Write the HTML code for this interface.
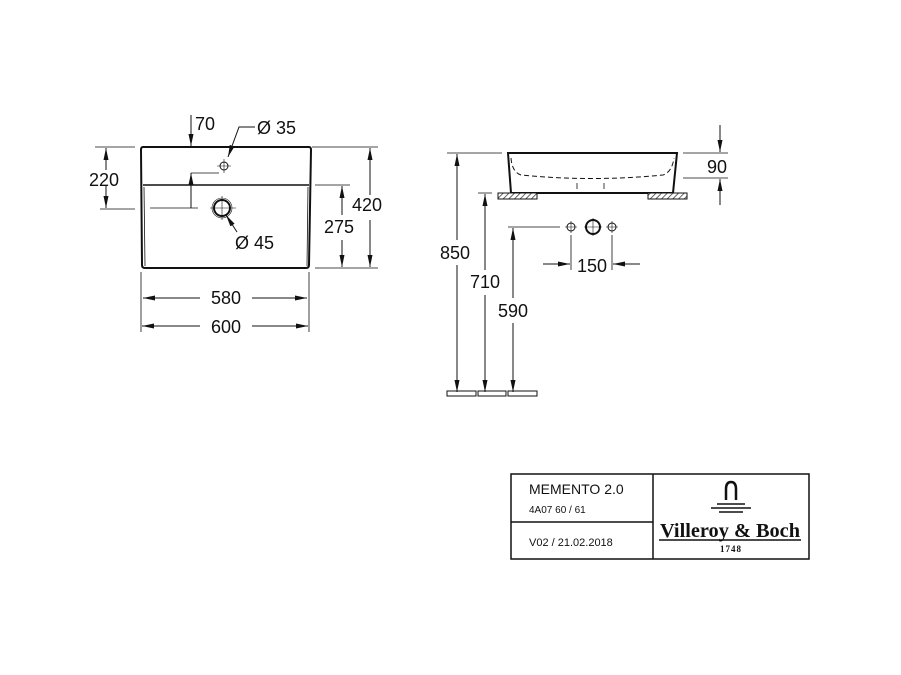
<!DOCTYPE html>
<html><head><style>body{margin:0;background:#fff}svg{display:block}text{font-family:"Liberation Sans",sans-serif;fill:#111}</style></head><body>
<svg width="901" height="675" viewBox="0 0 901 675" xmlns="http://www.w3.org/2000/svg">
<defs><marker id="a" markerWidth="12" markerHeight="6" refX="12" refY="3" orient="auto" markerUnits="userSpaceOnUse"><path d="M0,0.5 L12,3 L0,5.5z" fill="#111"/></marker>
<pattern id="h" width="4" height="4" patternUnits="userSpaceOnUse" patternTransform="rotate(45)"><rect width="4" height="4" fill="#fff"/><line x1="0" y1="0" x2="0" y2="4" stroke="#333" stroke-width="1.5"/></pattern></defs>
<g stroke="#111" fill="none" stroke-width="1">
<path d="M143,147 L309,147 Q311,147 311,150 L309,265 Q309,268 306,268 L145,268 Q142,268 142,265 L141,150 Q141,147 143,147z" stroke-width="2"/>
<path d="M143,185 L309,185" stroke-width="1.5"/>
<path d="M144,187 L145,266 M308,187 L307,266" stroke-width="0.8"/>
<circle cx="224" cy="166" r="4"/><path d="M217,166h14M224,159v14" stroke-width="0.6"/>
<circle cx="222" cy="208" r="8" stroke-width="2"/><circle cx="222" cy="208" r="10" stroke-width="0.6"/><path d="M210,208h26M222,196v24" stroke-width="0.6"/>
<path d="M150,208h48" stroke-width="0.8"/>
<path d="M95,147h40M100,209h35M315,185h35M312,147h66M315,268h63" stroke-width="0.8"/>
<path d="M106,170 V148" marker-end="url(#a)"/><path d="M106,186 V208" marker-end="url(#a)"/>
<path d="M191,115 V146" marker-end="url(#a)"/>
<path d="M191,208 V173" marker-end="url(#a)"/><path d="M191,173 h28" stroke-width="0.8"/>
<path d="M255,127 H239 L228,157" marker-end="url(#a)" stroke-width="1"/>
<path d="M237,232 L226,215" marker-end="url(#a)"/>
<path d="M342,215 V186" marker-end="url(#a)"/><path d="M342,240 V267" marker-end="url(#a)"/>
<path d="M370,195 V148" marker-end="url(#a)"/><path d="M370,220 V267" marker-end="url(#a)"/>
<path d="M141,272v60M309,272v60" stroke-width="0.8"/>
<path d="M200,298H143" marker-end="url(#a)"/><path d="M252,298H307" marker-end="url(#a)"/>
<path d="M200,326H142" marker-end="url(#a)"/><path d="M252,326H308" marker-end="url(#a)"/>
<path d="M508,153 L677,153 L673,193 L511,193 Z" stroke-width="2"/>
<path d="M511,158 Q512,172 521,175 Q592,182 663,175 Q672,172 674,158" stroke-dasharray="5,3" stroke-width="1"/>
<path d="M577,183v6M604,183v6" stroke-width="0.8"/>
<rect x="498" y="193" width="39" height="6" fill="url(#h)" stroke-width="1"/>
<rect x="648" y="193" width="39" height="6" fill="url(#h)" stroke-width="1"/>
<path d="M683,153h45M683,178h45M447,153h55M478,193h14M508,227h52" stroke-width="0.8"/>
<path d="M720,125V152" marker-end="url(#a)"/><path d="M720,205V179" marker-end="url(#a)"/>
<path d="M457,240V154" marker-end="url(#a)"/><path d="M457,265V392" marker-end="url(#a)"/>
<path d="M485,270V194" marker-end="url(#a)"/><path d="M485,295V392" marker-end="url(#a)"/>
<path d="M513,298V228" marker-end="url(#a)"/><path d="M513,323V392" marker-end="url(#a)"/>
<circle cx="571" cy="227" r="4"/><path d="M565,227h12M571,221v12" stroke-width="0.6"/>
<circle cx="593" cy="227" r="7" stroke-width="2"/><path d="M584,227h18M593,218v18" stroke-width="0.6"/>
<circle cx="612" cy="227" r="4"/><path d="M606,227h12M612,221v12" stroke-width="0.6"/>
<path d="M571,235v35M612,235v35" stroke-width="0.8"/>
<path d="M543,264H570" marker-end="url(#a)"/><path d="M640,264H613" marker-end="url(#a)"/>
<rect x="447" y="391" width="29" height="5"/><rect x="478" y="391" width="28" height="5"/><rect x="508" y="391" width="29" height="5"/>
<rect x="511" y="474" width="298" height="85" stroke-width="1.5"/>
<path d="M653,474V559M511,522H653" stroke-width="1.5"/>
<path d="M726,500 V489 Q726,482 731,482 Q736,482 736,489 V500" stroke-width="2.5"/>
<path d="M717,504h28M711,508h40M719,512h24" stroke-width="1.5"/>
<path d="M659,540h142" stroke-width="1.5"/>
</g>
<g font-size="18">
<text x="195" y="130">70</text><text x="257" y="134">Ø 35</text>
<text x="89" y="186">220</text><text x="235" y="249">Ø 45</text>
<text x="324" y="233">275</text><text x="352" y="211">420</text>
<text x="226" y="304" text-anchor="middle">580</text><text x="226" y="333" text-anchor="middle">600</text>
<text x="707" y="173">90</text>
<text x="455" y="259" text-anchor="middle">850</text>
<text x="485" y="288" text-anchor="middle">710</text>
<text x="513" y="317" text-anchor="middle">590</text>
<text x="592" y="272" text-anchor="middle">150</text>
</g>
<text x="529" y="494" font-size="14">MEMENTO 2.0</text>
<text x="529" y="513" font-size="10">4A07 60 / 61</text>
<text x="529" y="546" font-size="11">V02 / 21.02.2018</text>
<text x="730" y="537" font-size="20" font-weight="bold" text-anchor="middle" textLength="140" lengthAdjust="spacingAndGlyphs" style="font-family:'Liberation Serif',serif">Villeroy &amp; Boch</text>
<text x="731" y="552" font-size="9" font-weight="bold" text-anchor="middle" letter-spacing="1" style="font-family:'Liberation Serif',serif">1748</text>
</svg>
</body></html>
